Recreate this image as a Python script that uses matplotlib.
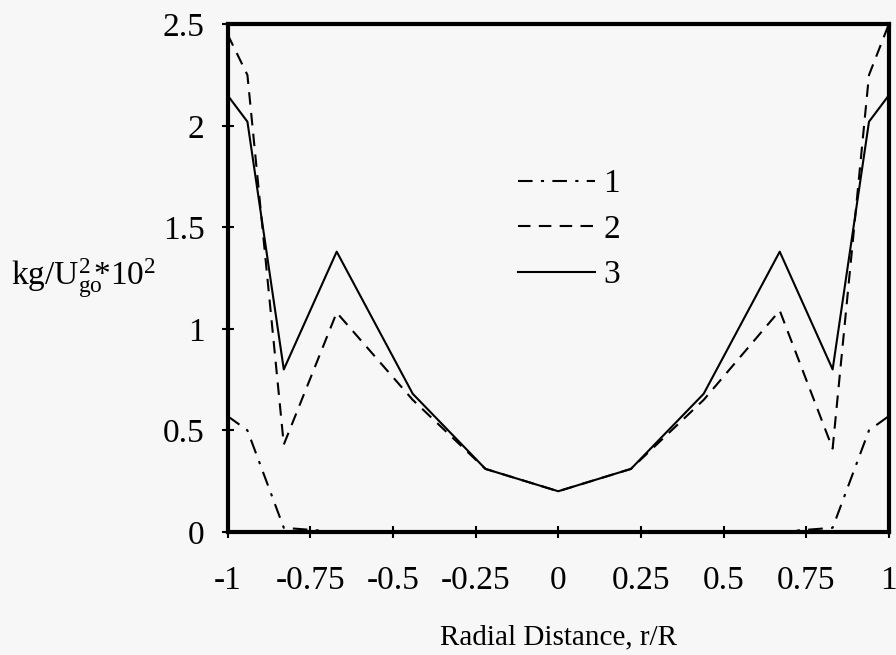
import matplotlib
matplotlib.use("Agg")
import matplotlib.pyplot as plt

plt.rcParams['font.family'] = ['Liberation Serif', 'DejaVu Serif']
plt.rcParams['mathtext.fontset'] = 'custom'
plt.rcParams['mathtext.rm'] = 'Liberation Serif'
plt.rcParams['mathtext.it'] = 'Liberation Serif'

r = [-1, -0.94, -0.83, -0.67, -0.44, -0.22, 0, 0.22, 0.44, 0.67, 0.83, 0.94, 1]
s1 = [0.57, 0.50, 0.02, 0.0, 0.0, 0.0, 0.0, 0.0, 0.0, 0.0, 0.02, 0.50, 0.57]
s2 = [2.45, 2.25, 0.43, 1.08, 0.65, 0.31, 0.20, 0.31, 0.65, 1.09, 0.41, 2.25, 2.50]
s3 = [2.15, 2.02, 0.80, 1.38, 0.68, 0.31, 0.20, 0.31, 0.68, 1.38, 0.80, 2.02, 2.15]
labels = ['1', '2', '3']
xticks = [-1, -0.75, -0.5, -0.25, 0, 0.25, 0.5, 0.75, 1]
xticklabels = ['-1', '-0.75', '-0.5', '-0.25', '0', '0.25', '0.5', '0.75', '1']
yticks = [0, 0.5, 1, 1.5, 2, 2.5]
yticklabels = ['0', '0.5', '1', '1.5', '2', '2.5']

bg = '#f7f7f7'
fig = plt.figure(figsize=(8.96, 6.55), dpi=100, facecolor=bg)
ax = fig.add_axes([0.254, 0.188, 0.738, 0.775], facecolor=bg)

ax.plot(r, s1, color='black', lw=1.5, linestyle=(0, (7, 4, 1.5, 4)), label=labels[0])
ax.plot(r, s2, color='black', lw=1.5, linestyle=(0, (6, 4)), label=labels[1])
ax.plot(r, s3, color='black', lw=1.5, linestyle='-', label=labels[2])

ax.set_xlim(-1, 1)
ax.set_ylim(0, 2.5)
ax.set_xticks(xticks)
ax.set_xticklabels(xticklabels)
ax.set_yticks(yticks)
ax.set_yticklabels(yticklabels)
ax.tick_params(direction='inout', length=9, width=1.5, labelsize=24)
ax.tick_params(axis='x', pad=20)
ax.tick_params(axis='y', pad=12)
for sp in ax.spines.values():
    sp.set_linewidth(3)

ax.set_xlabel('Radial Distance, r/R', fontsize=21, labelpad=20)
fig.text(0.012, 0.575,
         r'kg/U$_{\mathregular{go}}^{\mathregular{2}}$$\!\!$*10$^{\mathregular{2}}$',
         fontsize=24, ha='left', va='center')

ax.legend(frameon=False, fontsize=24, loc='upper left', bbox_to_anchor=(0.394, 0.774),
          handlelength=2.3, handletextpad=0.25, labelspacing=0.45)

fig.savefig('out.png', dpi=100, facecolor=bg)
